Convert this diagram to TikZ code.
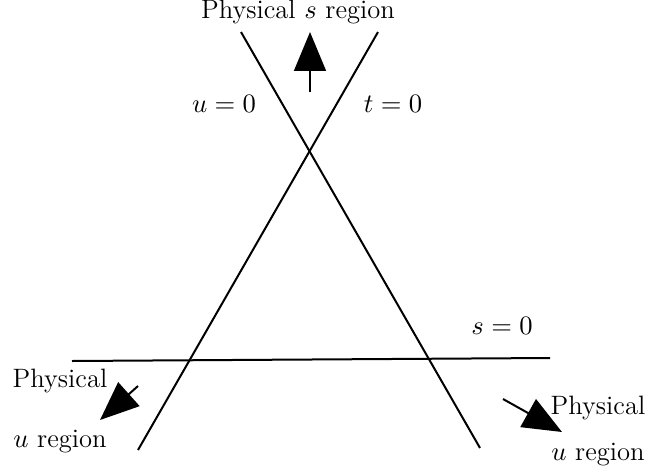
\RequirePackage{fix-cm}
\documentclass[tikz,border=0pt]{standalone}
\usetikzlibrary{arrows.meta}
\begin{document}
\begin{tikzpicture}[x=0.425pt,y=-0.425pt,
  ln/.style={line width=0.85pt},
  bigarrow/.style={line width=0.85pt,-{Triangle[length=16.5pt,width=13.5pt]}},
  lbl/.style={inner sep=0pt,font=\fontsize{11.3}{13.5}\selectfont}]
\useasboundingbox (0,0) rectangle (647,471);
% lines
\coordinate (uA) at (241,32);
\coordinate (uB) at (480,448);
\coordinate (tA) at (378,32);
\coordinate (tB) at (138,450);
\coordinate (sA) at (72,361);
\coordinate (sB) at (550,358);
\draw[ln] (uA) -- (uB);
\draw[ln] (tA) -- (tB);
\draw[ln] (sA) -- (sB);
% arrows
\coordinate (a1s) at (310,92);
\coordinate (a1e) at (310,32);
\coordinate (a2s) at (138,386);
\coordinate (a2e) at (100,420);
\coordinate (a3s) at (503,399);
\coordinate (a3e) at (562,432);
\draw[bigarrow] (a1s) -- (a1e);
\draw[bigarrow] (a2s) -- (a2e);
\draw[bigarrow] (a3s) -- (a3e);
% labels
\node[lbl] (ps) at (298,12) {Physical $s$ region};
\node[lbl] (u0) at (224,104) {$u=0$};
\node[lbl] (t0) at (393,104) {$t=0$};
\node[lbl] (s0) at (502,326) {$s=0$};
\node[lbl] (pl1) at (60,381) {Physical};
\node[lbl] (pl2) at (60,442) {$u$ region};
\node[lbl] (pr1) at (598,408) {Physical};
\node[lbl] (pr2) at (598,455) {$u$ region};
\end{tikzpicture}
\end{document}
